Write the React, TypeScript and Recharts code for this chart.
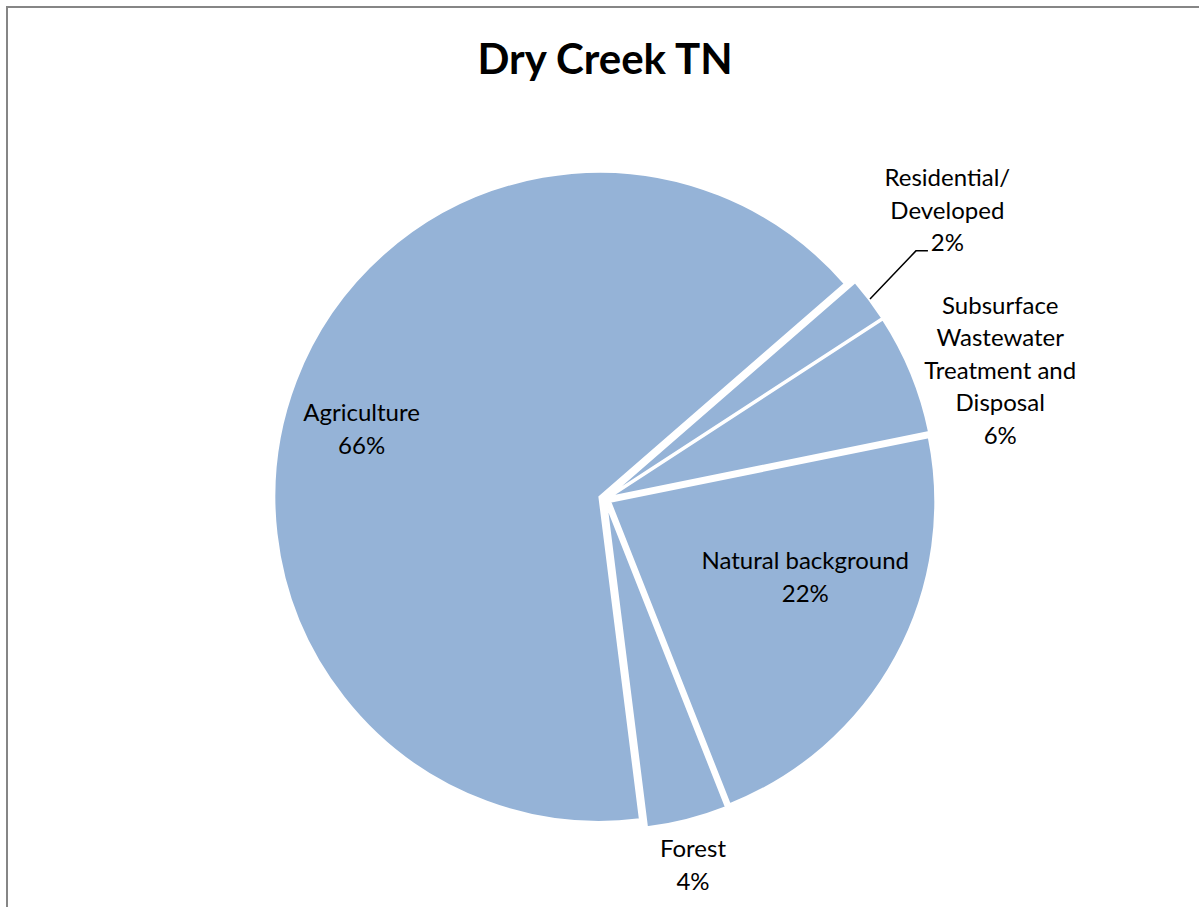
import { PieChart, Pie, Sector } from "recharts"

const categories = ["Residential/ Developed", "Subsurface Wastewater Treatment and Disposal", "Natural background", "Forest", "Agriculture"]
const labelLines = [
  ["Residential/", "Developed"],
  ["Subsurface", "Wastewater", "Treatment and", "Disposal"],
  ["Natural background"],
  ["Forest"],
  ["Agriculture"],
]
const shares = [2.2, 6.0, 22.2, 4.0, 65.6]

const data = categories.map((name, i) => ({ name, value: shares[i] }))

// label spot: radius as a factor of outerRadius, angle nudge in degrees
const labelSpot = [
  { r: 1.38, shift: 3.2 },
  { r: 1.28, shift: -4.1 },
  { r: 0.66, shift: 7.5 },
  { r: 1.155, shift: -0.8 },
  { r: 0.78, shift: 4.7 },
]

const RADIAN = Math.PI / 180
const EXPLODE = 6
const FONT = "Lato, 'Open Sans', sans-serif"

const polar = (cx: number, cy: number, r: number, angle: number) => ({
  x: cx + r * Math.cos(angle * RADIAN),
  y: cy - r * Math.sin(angle * RADIAN),
})

const ExplodedSlice = (props: any) => {
  const { cx, cy, midAngle } = props
  const off = polar(0, 0, EXPLODE, midAngle)
  return <Sector {...props} cx={cx + off.x} cy={cy + off.y} />
}

const renderLabel = (props: any) => {
  const { cx, cy, midAngle, outerRadius, index, percent } = props
  const spot = labelSpot[index]
  const p = polar(cx, cy, outerRadius * spot.r, midAngle + spot.shift)
  const lines = [...labelLines[index], `${Math.round(percent * 100)}%`]
  const lh = 32.5
  const y0 = p.y - ((lines.length - 1) / 2) * lh
  let leader = null
  if (index === 0) {
    const a = polar(cx, cy, outerRadius + 7, midAngle)
    const b = polar(cx, cy, outerRadius * 1.224, midAngle + 1.55)
    leader = (
      <polyline
        points={`${a.x},${a.y} ${b.x},${b.y} ${b.x + 12},${b.y}`}
        fill="none"
        stroke="#000"
        strokeWidth={1.5}
      />
    )
  }
  return (
    <g>
      {leader}
      <text x={p.x} y={y0} textAnchor="middle" fontFamily={FONT} fontSize={24} fill="#000">
        {lines.map((ln, i) => (
          <tspan key={i} x={p.x} y={y0 + i * lh} dominantBaseline="central">
            {ln}
          </tspan>
        ))}
      </text>
    </g>
  )
}

export default function App() {
  return (
    <div
      style={{
        position: "absolute",
        left: 6,
        top: 6,
        width: 1193,
        height: 901,
        boxSizing: "border-box",
        borderTop: "2px solid #868686",
        borderLeft: "2px solid #868686",
        background: "#fff",
      }}
    >
      <PieChart width={1191} height={899}>
        <text x={597} y={66} textAnchor="middle" fontFamily={FONT} fontWeight="bold" fontSize={42} fill="#000">
          Dry Creek TN
        </text>
        <Pie
          data={data}
          dataKey="value"
          nameKey="name"
          cx={592}
          cy={486}
          outerRadius={325}
          startAngle={41}
          endAngle={-319}
          fill="#95B3D7"
          stroke="#fff"
          strokeWidth={2}
          shape={ExplodedSlice}
          label={renderLabel}
          labelLine={false}
          isAnimationActive={false}
        />
      </PieChart>
    </div>
  )
}
